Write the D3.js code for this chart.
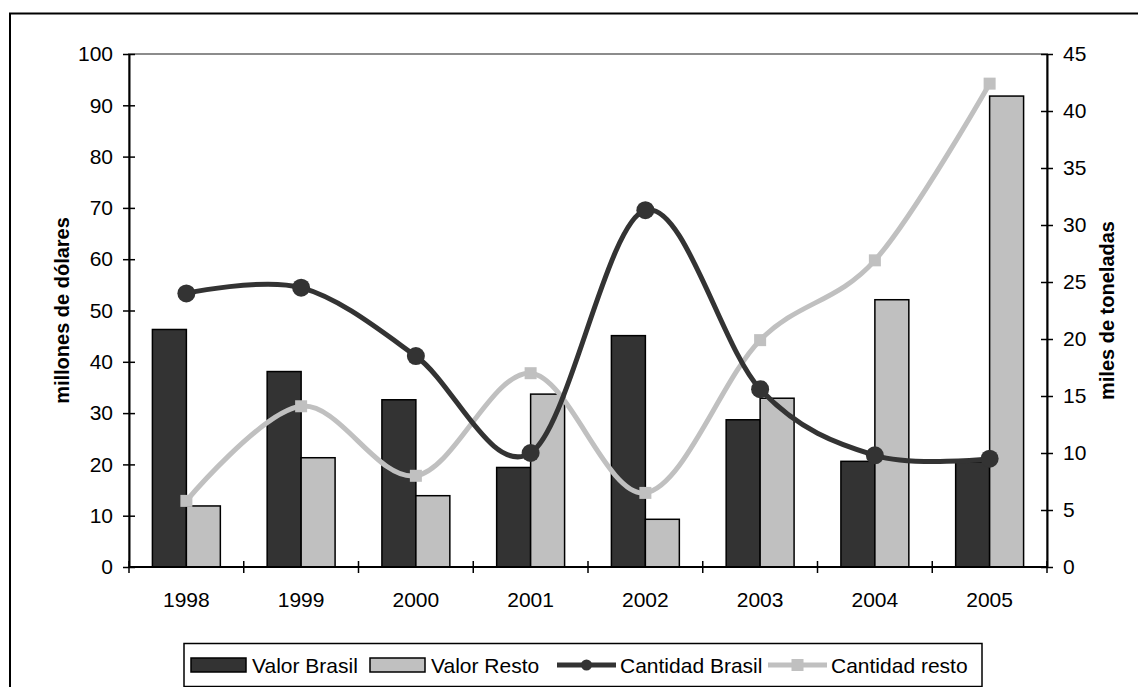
<!DOCTYPE html>
<html>
<head>
<meta charset="utf-8">
<script src="https://cdn.jsdelivr.net/npm/d3@7/dist/d3.min.js"></script>
<style>
  html, body { margin: 0; padding: 0; background: #fff; }
  svg { display: block; font-family: "Liberation Sans", Arial, sans-serif; }
</style>
</head>
<body>
<svg id="chart" width="1138" height="687"></svg>
<script>
// Years on the category axis
const years = ["1998", "1999", "2000", "2001", "2002", "2003", "2004", "2005"];
// Export value, millions of dollars (left axis)
const valorBrasil = [46.3, 38.1, 32.6, 19.4, 45.1, 28.7, 20.6, 20.5];
const valorResto  = [11.9, 21.3, 13.9, 33.7, 9.3, 32.9, 52.1, 91.8];
// Export quantity, thousands of tonnes (right axis)
const cantidadBrasil = [24.0, 24.5, 18.5, 10.0, 31.3, 15.6, 9.8, 9.5];
const cantidadResto  = [5.8, 14.1, 8.0, 17.0, 6.5, 19.9, 26.9, 42.4];
// Axis ticks
const leftTicks  = [0, 10, 20, 30, 40, 50, 60, 70, 80, 90, 100];
const rightTicks = [0, 5, 10, 15, 20, 25, 30, 35, 40, 45];
// Legend entries
const legendLabels = ["Valor Brasil", "Valor Resto", "Cantidad Brasil", "Cantidad resto"];

const DARK = "#333333", LIGHT = "#c0c0c0";
const FONT = "'Liberation Sans', Arial, sans-serif";

const svg = d3.select("#chart");

// chart frame
svg.append("rect")
  .attr("x", 10).attr("y", 13.5)
  .attr("width", 1140).attr("height", 690)
  .attr("fill", "#fff").attr("stroke", "#000").attr("stroke-width", 2);

const plot = { left: 129, right: 1047, top: 54, bottom: 567 };

const x = d3.scaleBand().domain(years).range([plot.left, plot.right]);
const yL = d3.scaleLinear().domain([0, 100]).range([plot.bottom, plot.top]);
const yR = d3.scaleLinear().domain([0, 45]).range([plot.bottom, plot.top]);

// plot area border (only the top edge stays visible beside the axes)
svg.append("rect")
  .attr("x", plot.left).attr("y", plot.top)
  .attr("width", plot.right - plot.left).attr("height", plot.bottom - plot.top)
  .attr("fill", "none").attr("stroke", "#8c8c8c").attr("stroke-width", 2);

// bars
const bw = x.bandwidth() * 0.296;
const g = svg.append("g");
g.selectAll("rect.vb").data(years).join("rect")
  .attr("class", "vb")
  .attr("x", d => x(d) + x.bandwidth() / 2 - bw)
  .attr("y", (d, i) => yL(valorBrasil[i]))
  .attr("width", bw)
  .attr("height", (d, i) => yL(0) - yL(valorBrasil[i]))
  .attr("fill", DARK).attr("stroke", "#000").attr("stroke-width", 1.5);
g.selectAll("rect.vr").data(years).join("rect")
  .attr("class", "vr")
  .attr("x", d => x(d) + x.bandwidth() / 2)
  .attr("y", (d, i) => yL(valorResto[i]))
  .attr("width", bw)
  .attr("height", (d, i) => yL(0) - yL(valorResto[i]))
  .attr("fill", LIGHT).attr("stroke", "#000").attr("stroke-width", 1.5);

// smoothed quantity lines on the right axis
const cx = d => x(d) + x.bandwidth() / 2;
const line = d3.line().curve(d3.curveCatmullRom.alpha(0));

svg.append("path")
  .attr("d", line(years.map((d, i) => [cx(d), yR(cantidadResto[i])])))
  .attr("fill", "none").attr("stroke", LIGHT).attr("stroke-width", 5)
  .attr("stroke-linejoin", "round");
svg.selectAll("rect.mr").data(years).join("rect")
  .attr("class", "mr")
  .attr("x", d => cx(d) - 6)
  .attr("y", (d, i) => yR(cantidadResto[i]) - 6)
  .attr("width", 12).attr("height", 12)
  .attr("fill", LIGHT);

svg.append("path")
  .attr("d", line(years.map((d, i) => [cx(d), yR(cantidadBrasil[i])])))
  .attr("fill", "none").attr("stroke", DARK).attr("stroke-width", 5)
  .attr("stroke-linejoin", "round");
svg.selectAll("circle.mb").data(years).join("circle")
  .attr("class", "mb")
  .attr("cx", d => cx(d))
  .attr("cy", (d, i) => yR(cantidadBrasil[i]))
  .attr("r", 9)
  .attr("fill", DARK);

// axes
function styleAxis(sel) {
  sel.select(".domain").attr("stroke", "#000").attr("stroke-width", 2);
  sel.selectAll("line").attr("stroke", "#000").attr("stroke-width", 1.5);
  sel.selectAll(".tick text").attr("fill", "#000")
    .style("font-size", "21px").style("font-family", FONT);
}

const axL = svg.append("g").attr("transform", `translate(${plot.left},0)`)
  .call(d3.axisLeft(yL).tickValues(leftTicks).tickSize(0).tickPadding(16).tickSizeOuter(0));
axL.selectAll(".tick line").attr("x1", -6).attr("x2", 6);
styleAxis(axL);

const axR = svg.append("g").attr("transform", `translate(${plot.right},0)`)
  .call(d3.axisRight(yR).tickValues(rightTicks).tickSize(0).tickPadding(16).tickSizeOuter(0));
axR.selectAll(".tick line").attr("x1", -6).attr("x2", 6);
styleAxis(axR);

const axB = svg.append("g").attr("transform", `translate(0,${plot.bottom})`)
  .call(d3.axisBottom(x).tickSize(0).tickPadding(25).tickSizeOuter(0));
axB.select(".domain").attr("d", `M${plot.left},0H${plot.right}`);
// ticks sit on category boundaries
const bounds = d3.range(years.length + 1).map(i => plot.left + i * x.step());
axB.selectAll("line.bound").data(bounds).join("line")
  .attr("class", "bound")
  .attr("x1", d => d).attr("x2", d => d).attr("y1", -6).attr("y2", 6);
styleAxis(axB);

// axis titles
svg.append("text")
  .attr("transform", `translate(69,${(plot.top + plot.bottom) / 2}) rotate(-90)`)
  .attr("text-anchor", "middle")
  .style("font-size", "20px").style("font-weight", "bold").style("font-family", FONT)
  .text("millones de dólares");
svg.append("text")
  .attr("transform", `translate(1114,${(plot.top + plot.bottom) / 2}) rotate(-90)`)
  .attr("text-anchor", "middle")
  .style("font-size", "20px").style("font-weight", "bold").style("font-family", FONT)
  .text("miles de toneladas");

// legend
const legend = svg.append("g");
legend.append("rect")
  .attr("x", 184).attr("y", 643.5).attr("width", 798).attr("height", 43)
  .attr("fill", "#fff").attr("stroke", "#000").attr("stroke-width", 1.5);

const ly = 665;
const legendStyle = [
  { type: "bar", color: DARK, x: 191 },
  { type: "bar", color: LIGHT, x: 370 },
  { type: "line", color: DARK, x: 557, marker: "circle" },
  { type: "line", color: LIGHT, x: 768, marker: "square" }
];
legendStyle.forEach((it, i) => {
  if (it.type === "bar") {
    legend.append("rect").attr("x", it.x).attr("y", ly - 7).attr("width", 55).attr("height", 14)
      .attr("fill", it.color).attr("stroke", "#000").attr("stroke-width", 1.5);
  } else {
    legend.append("line").attr("x1", it.x).attr("x2", it.x + 59).attr("y1", ly).attr("y2", ly)
      .attr("stroke", it.color).attr("stroke-width", 5);
    if (it.marker === "circle") {
      legend.append("circle").attr("cx", it.x + 29.5).attr("cy", ly).attr("r", 5.5).attr("fill", it.color);
    } else {
      legend.append("rect").attr("x", it.x + 23.5).attr("y", ly - 6).attr("width", 12).attr("height", 12)
        .attr("fill", it.color);
    }
  }
  legend.append("text")
    .attr("x", it.x + (it.type === "bar" ? 61 : 63)).attr("y", ly + 7.5)
    .style("font-size", "21px").style("font-family", FONT)
    .text(legendLabels[i]);
});
</script>
</body>
</html>
